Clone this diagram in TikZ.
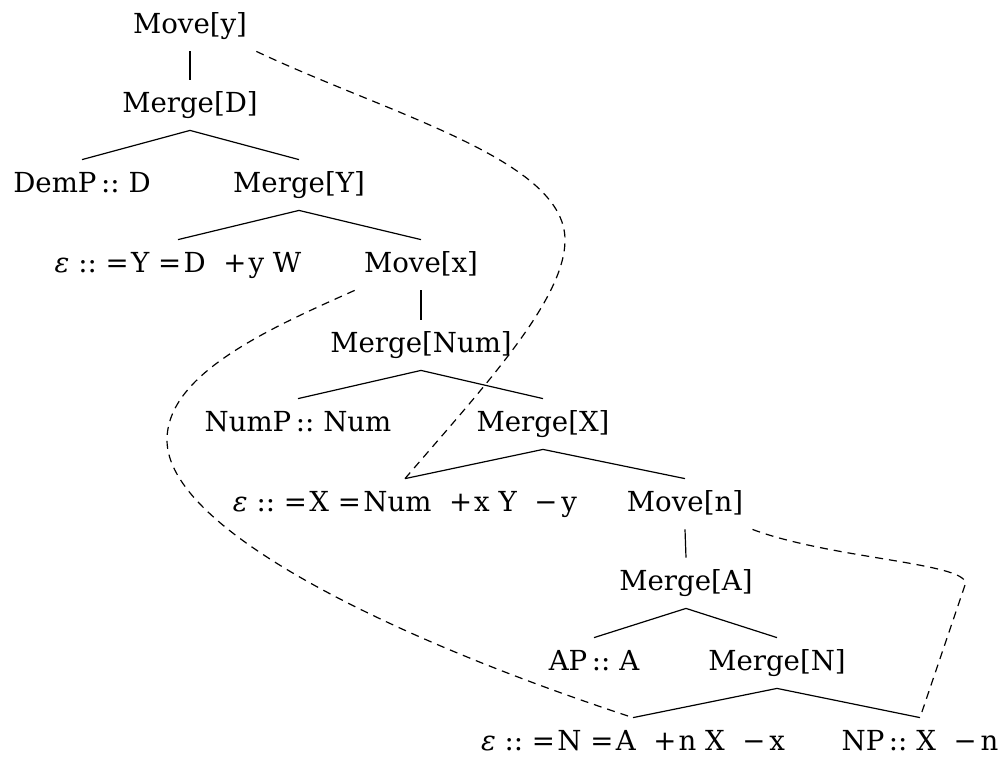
\documentclass[tikz,border=0pt]{standalone}
\usepackage{fontspec}
\setmainfont{DejaVu Serif}
\newcommand{\epsl}{\textit{ε}}
\newcommand{\fsel}{=\kern1.2pt}
\newcommand{\flic}{+\kern1pt}
\newcommand{\flee}{−\kern2pt}

\begin{document}
\begin{tikzpicture}[
  x=0.5pt, y=-0.5pt,
  font=\fontsize{13.8}{16}\selectfont,
  op/.style={inner xsep=4.5pt, inner ysep=5.5pt, text height=10.5pt, text depth=3.5pt},
  lex/.style={op},
  br/.style={line width=0.6pt},
  mv/.style={line width=0.6pt, dash pattern=on 4pt off 3pt},
]
\useasboundingbox (0,0) rectangle (1006,757);

% derivation tree
\node[op]  (mvy)   at (190,26)  {Move[y]};
\node[op]  (mgD)   at (190,105) {Merge[D]};
\node[lex] (demp)  at (82,185)  {DemP\,::\ D};
\node[op]  (mgY)   at (299,185) {Merge[Y]};
\node[lex] (epsY)  at (178,265) {\epsl\ ::\ \fsel Y\ \fsel D\ \ \flic y\ W};
\node[op]  (mvx)   at (421,265) {Move[x]};
\node[op]  (mgNum) at (421,345) {Merge[Num]};
\node[lex] (nump)  at (298,424) {NumP\,::\ Num};
\node[op]  (mgX)   at (543,424) {Merge[X]};
\node[lex] (epsX)  at (405,504) {\epsl\ ::\ \fsel X\ \fsel Num\ \ \flic x\ Y\ \ \flee y};
\node[op]  (mvn)   at (685,504) {Move[n]};
\node[op]  (mgA)   at (686,583) {Merge[A]};
\node[lex] (ap)    at (594,663) {AP\,::\ A};
\node[op]  (mgN)   at (777,663) {Merge[N]};
\node[lex] (epsN)  at (633,743) {\epsl\ ::\ \fsel N\ \fsel A\ \ \flic n\ X\ \ \flee x};
\node[lex] (np)    at (920,743) {NP\,::\ X\ \ \flee n};

\draw[br] (mvy.south) -- (mgD.north);
\draw[br] (mgD.south) -- (demp.north);
\draw[br] (mgD.south) -- (mgY.north);
\draw[br] (mgY.south) -- (epsY.north);
\draw[br] (mgY.south) -- (mvx.north);
\draw[br] (mvx.south) -- (mgNum.north);
\draw[br] (mgNum.south) -- (nump.north);
\draw[br] (mgNum.south) -- (mgX.north);
\draw[br] (mgX.south) -- (epsX.north);
\draw[br] (mgX.south) -- (mvn.north);
\draw[br] (mvn.south) -- (mgA.north);
\draw[br] (mgA.south) -- (ap.north);
\draw[br] (mgA.south) -- (mgN.north);
\draw[br] (mgN.south) -- (epsN.north);
\draw[br] (mgN.south) -- (np.north);

% movement links
\coordinate (yturn) at (565,240);
\coordinate (xturn) at (167,440);
\coordinate (nturn) at (965,585);
\draw[mv] (mvy.south east) .. controls +(136,64) and +(0,-80) .. (yturn)
  .. controls +(0,60) and +(78,-91) .. (epsX.north);
\draw[mv] (mvx.south west) .. controls +(-90,40) and +(0,-65) .. (xturn)
  .. controls +(0,90) and +(-238,-78) .. (epsN.north);
\draw[mv] (mvn.south east) .. controls +(80,30) and +(8,-22) .. (nturn) -- (np.north);
\end{tikzpicture}
\end{document}
